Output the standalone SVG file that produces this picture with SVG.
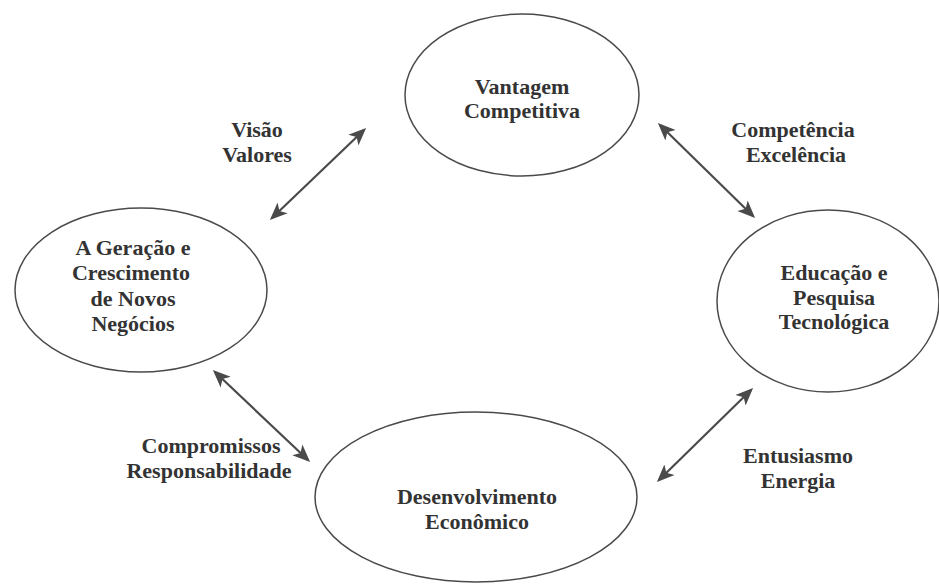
<svg xmlns="http://www.w3.org/2000/svg" width="939" height="587" viewBox="0 0 939 587">
<style>
.node{fill:none;stroke:#4a4a4a;stroke-width:1.5}
.t{font-family:"Liberation Serif","Times New Roman",serif;font-weight:bold;font-size:22px;fill:#333;text-anchor:middle}
.c{stroke:#4a4a4a;stroke-width:2.2;fill:none;marker-start:url(#ah);marker-end:url(#ah)}
</style>
<defs>
<marker id="ah" viewBox="0 0 12 10" refX="10" refY="5" markerWidth="8" markerHeight="7" orient="auto-start-reverse" markerUnits="strokeWidth">
<path d="M0,0 L12,5 L0,10 L3,5 Z" fill="#4a4a4a"/>
</marker>
</defs>
<rect width="939" height="587" fill="#fff"/>
<g id="connectors">
<line class="c" x1="272" y1="218" x2="364" y2="130"/>
<line class="c" x1="660" y1="125" x2="753" y2="216"/>
<line class="c" x1="215" y1="372" x2="308" y2="460"/>
<line class="c" x1="751" y1="390" x2="659" y2="480"/>
<text class="t" x="257" y="137">Visão</text>
<text class="t" x="257" y="162">Valores</text>
<text class="t" x="793" y="137">Competência</text>
<text class="t" x="796" y="162">Excelência</text>
<text class="t" x="211" y="453">Compromissos</text>
<text class="t" x="209" y="478">Responsabilidade</text>
<text class="t" x="798" y="463">Entusiasmo</text>
<text class="t" x="798" y="488">Energia</text>
</g>
<g id="vantagem">
<ellipse class="node" cx="522" cy="95" rx="117" ry="81"/>
<text class="t" x="522" y="94">Vantagem</text>
<text class="t" x="522" y="118">Competitiva</text>
</g>
<g id="geracao">
<ellipse class="node" cx="141" cy="290" rx="126" ry="82"/>
<text class="t" x="133" y="255">A Geração e</text>
<text class="t" x="131" y="280">Crescimento</text>
<text class="t" x="133" y="306">de Novos</text>
<text class="t" x="133" y="331">Negócios</text>
</g>
<g id="educacao">
<ellipse class="node" cx="828" cy="301" rx="111" ry="91"/>
<text class="t" x="834" y="280">Educação e</text>
<text class="t" x="834" y="305">Pesquisa</text>
<text class="t" x="834" y="329">Tecnológica</text>
</g>
<g id="desenvolvimento">
<ellipse class="node" cx="476" cy="497" rx="161" ry="85"/>
<text class="t" x="477" y="504">Desenvolvimento</text>
<text class="t" x="477" y="529">Econômico</text>
</g>
</svg>
